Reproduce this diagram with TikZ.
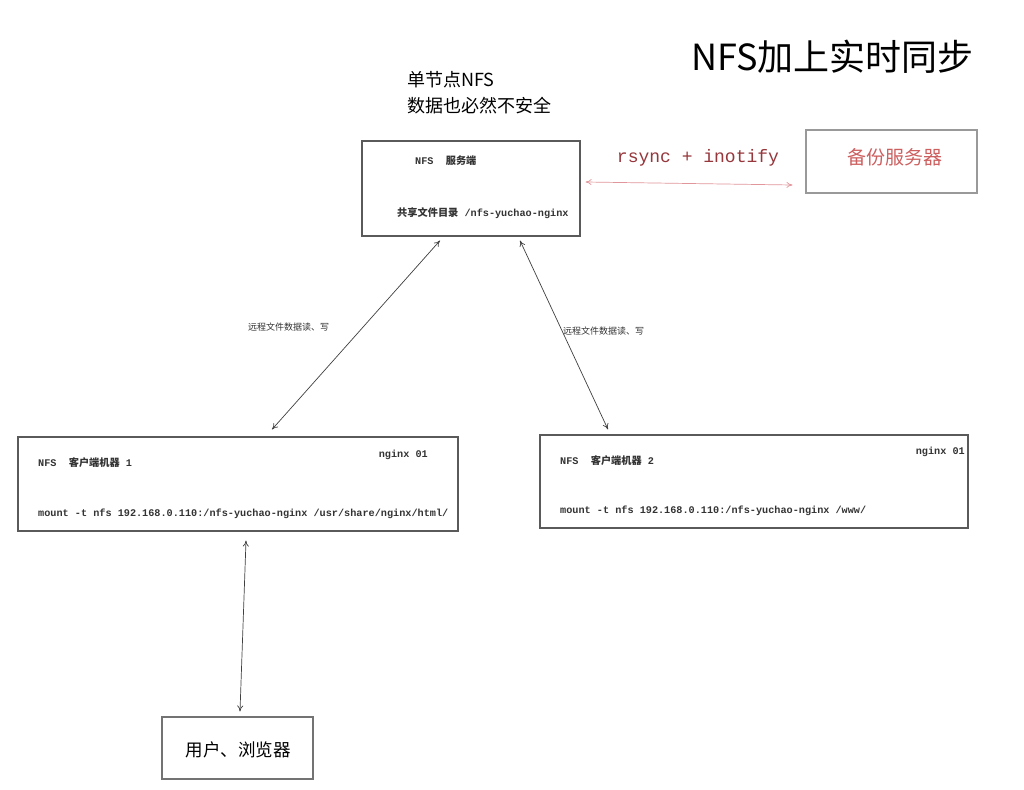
\documentclass[tikz,border=0pt]{standalone}
\usepackage{fontspec}
\setmainfont{Noto Sans CJK SC}
\setmonofont{Liberation Mono}
\newfontfamily\cjk{Noto Sans CJK SC}
\usepackage{xcolor}
\usetikzlibrary{positioning,arrows.meta}

\definecolor{boxline}{RGB}{90,90,90}
\definecolor{syncred}{RGB}{150,55,60}
\definecolor{bakred}{RGB}{205,95,95}
\definecolor{linkpink}{RGB}{225,150,155}

\tikzset{
  hostbox/.style={draw=boxline,line width=1.1pt,inner sep=0pt},
  tiny/.style={font=\fontsize{10.2}{12}\selectfont\ttfamily\bfseries,text=black!80,inner sep=0pt},
  edgelabel/.style={font=\fontsize{9}{11}\selectfont,text=black!80,inner sep=0pt},
  link/.style={<->,>={To[length=6pt,width=6pt]},line width=0.7pt,draw=black!75}
}

\begin{document}
\begin{tikzpicture}[x=1pt,y=-1pt]
  \useasboundingbox[fill=white] (0,0) rectangle (1024,789);
  % titles
  \node[anchor=west,inner sep=0pt,font=\fontsize{36}{42}\selectfont] (title) at (691,57) {NFS加上实时同步};
  \node[anchor=west,inner sep=0pt,font=\fontsize{18}{22}\selectfont] (note1) at (407,80) {单节点NFS};
  \node[anchor=west,inner sep=0pt,font=\fontsize{18}{22}\selectfont] (note2) at (407,106) {数据也必然不安全};

  % boxes
  \node[hostbox,minimum width=218pt,minimum height=95pt] (srv) at (471,188.5) {};
  \node[hostbox,draw=black!40,minimum width=171pt,minimum height=63pt] (bak) at (891.5,161.5) {};
  \node[hostbox,minimum width=440pt,minimum height=94pt] (c1) at (238,484) {};
  \node[hostbox,minimum width=428pt,minimum height=93pt] (c2) at (754,481.5) {};
  \node[hostbox,draw=black!55,minimum width=151pt,minimum height=62pt] (user) at (237.5,748) {};

  % texts in the boxes
  \node[tiny,anchor=west] (srvname) at (415,161) {NFS\ \ {\cjk 服务端}};
  \node[tiny,anchor=west] (srvdir) at (397,213) {{\cjk 共享文件目录} /nfs-yuchao-nginx};
  \node[font=\fontsize{19}{22}\selectfont,text=bakred,inner sep=0pt] (baktext) at (895,157) {备份服务器};
  \node[tiny,anchor=west] (c1name) at (38,463) {NFS\ \ {\cjk 客户端机器} 1};
  \node[tiny,anchor=east] (c1tag) at (428,455) {nginx 01};
  \node[tiny,anchor=west] (c1mount) at (38,514) {mount -t nfs 192.168.0.110:/nfs-yuchao-nginx /usr/share/nginx/html/};
  \node[tiny,anchor=west] (c2name) at (560,461) {NFS\ \ {\cjk 客户端机器} 2};
  \node[tiny,anchor=east] (c2tag) at (965,452) {nginx 01};
  \node[tiny,anchor=west] (c2mount) at (560,511) {mount -t nfs 192.168.0.110:/nfs-yuchao-nginx /www/};
  \node[font=\fontsize{17.5}{21}\selectfont,inner sep=0pt] (usertext) at (238,750) {用户、浏览器};

  % connectors
  \draw[link,draw=linkpink] ([xshift=5pt,yshift=6.5pt]srv.east) -- ([xshift=-13pt,yshift=-23.5pt]bak.west);
  \node[font=\fontsize{18}{22}\selectfont\ttfamily,text=syncred,inner sep=0pt] (sync) at (698,158) {rsync + inotify};
  \draw[link] ([xshift=-31pt,yshift=-4pt]srv.south) -- ([xshift=34pt,yshift=7pt]c1.north);
  \draw[link] ([xshift=49pt,yshift=-4pt]srv.south) -- ([xshift=-146pt,yshift=5pt]c2.north);
  \draw[link] ([xshift=8pt,yshift=-9pt]c1.south) -- ([xshift=2.5pt,yshift=5pt]user.north);
  \node[edgelabel,anchor=west] (rw1) at (248,327) {远程文件数据读、写};
  \node[edgelabel,anchor=west] (rw2) at (563,331) {远程文件数据读、写};
\end{tikzpicture}
\end{document}
